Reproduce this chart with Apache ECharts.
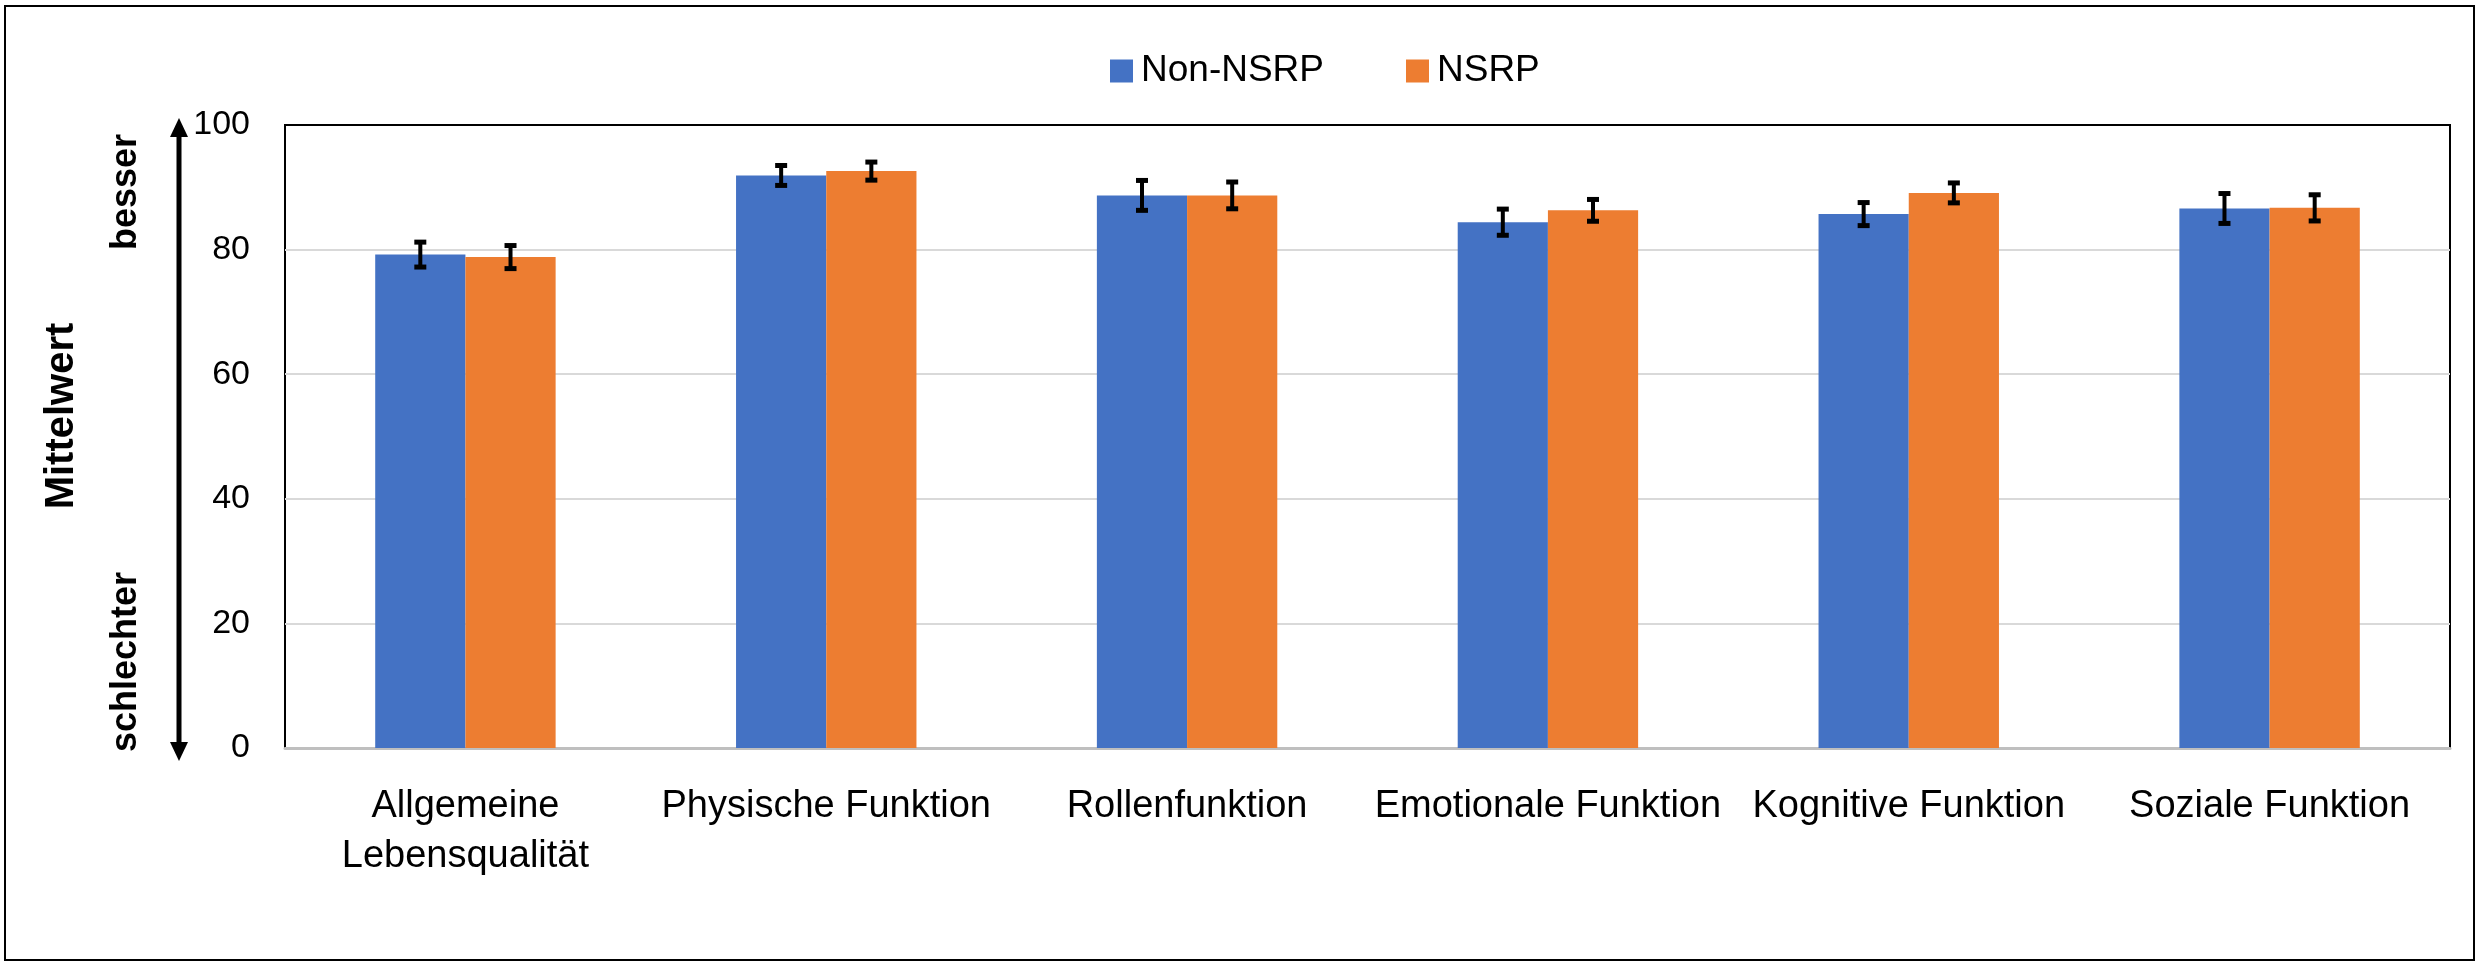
<!DOCTYPE html>
<html>
<head>
<meta charset="utf-8">
<script src="https://cdn.jsdelivr.net/npm/echarts@6/dist/echarts.min.js"></script>
<style>
  html, body { margin: 0; padding: 0; background: #fff; }
  #chart { width: 2483px; height: 965px; }
</style>
</head>
<body>
<div id="chart"></div>
<script>
// chart data
const categories = ['Allgemeine\nLebensqualität', 'Physische Funktion', 'Rollenfunktion', 'Emotionale Funktion', 'Kognitive Funktion', 'Soziale Funktion']
const seriesNames = ['Non-NSRP', 'NSRP']
const nonNsrp = [79.2, 91.9, 88.7, 84.4, 85.7, 86.6]
const nonNsrpErr = [2.0, 1.6, 2.4, 2.1, 1.85, 2.4]
const nsrp = [78.8, 92.6, 88.7, 86.3, 89.1, 86.7]
const nsrpErr = [1.85, 1.45, 2.15, 1.75, 1.6, 2.1]
const yTicks = [0, 20, 40, 60, 80, 100]

const colors = ['#4472C4', '#ED7D31']
const font = '"Liberation Sans", Arial, sans-serif'

const chart = echarts.init(document.getElementById('chart'))

// error bars drawn on top of the grouped bars (barGap 0, categoryGap 50%)
function errorSeries(values, errs, side) {
  return {
    type: 'custom',
    z: 10,
    silent: true,
    data: values.map((v, i) => [i, v - errs[i], v + errs[i]]),
    renderItem(params, api) {
      const band = api.size([1, 0])[0]
      const dx = side * band * 0.125
      const lo = api.coord([api.value(0), api.value(1)])
      const hi = api.coord([api.value(0), api.value(2)])
      const x = lo[0] + dx
      const cap = 6
      const style = { stroke: '#000', lineWidth: 4 }
      const capStyle = { stroke: '#000', lineWidth: 5 }
      return {
        type: 'group',
        children: [
          { type: 'line', shape: { x1: x, y1: lo[1], x2: x, y2: hi[1] }, style },
          { type: 'line', shape: { x1: x - cap, y1: lo[1], x2: x + cap, y2: lo[1] }, style: capStyle },
          { type: 'line', shape: { x1: x - cap, y1: hi[1], x2: x + cap, y2: hi[1] }, style: capStyle }
        ]
      }
    }
  }
}

chart.setOption({
  animation: false,
  textStyle: { fontFamily: font },
  legend: {
    data: seriesNames,
    left: 1105,
    top: 47,
    itemWidth: 23,
    itemHeight: 23,
    itemGap: 82,
    icon: 'rect',
    textStyle: { fontSize: 37, color: '#000', lineHeight: 38, padding: [0, 0, 0, 3] }
  },
  grid: {
    left: 285,
    right: 33,
    top: 125,
    bottom: 217,
    show: true,
    borderColor: '#000',
    borderWidth: 2
  },
  xAxis: {
    type: 'category',
    data: categories,
    axisTick: { show: false },
    axisLine: { lineStyle: { color: '#bfbfbf', width: 3 } },
    axisLabel: {
      color: '#000',
      fontSize: 38,
      lineHeight: 50,
      margin: 34,
      interval: 0
    }
  },
  yAxis: {
    type: 'value',
    min: 0,
    max: 100,
    interval: 20,
    axisLine: { show: false },
    axisTick: { show: false },
    axisLabel: {
      color: '#000',
      fontSize: 34,
      margin: 35,
      formatter: v => (yTicks.includes(v) ? String(v) : '')
    },
    splitLine: { showMaxLine: false, showMinLine: false, lineStyle: { color: '#d9d9d9', width: 2 } }
  },
  series: [
    {
      name: seriesNames[0],
      type: 'bar',
      data: nonNsrp,
      barGap: '0%',
      barCategoryGap: '50%',
      itemStyle: { color: colors[0] }
    },
    {
      name: seriesNames[1],
      type: 'bar',
      data: nsrp,
      barGap: '0%',
      barCategoryGap: '50%',
      itemStyle: { color: colors[1] }
    },
    errorSeries(nonNsrp, nonNsrpErr, -1),
    errorSeries(nsrp, nsrpErr, 1)
  ],
  graphic: [
    // outer frame
    {
      type: 'rect',
      shape: { x: 5, y: 6, width: 2469, height: 954 },
      style: { fill: null, stroke: '#000', lineWidth: 2 },
      silent: true
    },
    // double arrow beside the y axis
    {
      type: 'line',
      shape: { x1: 179, y1: 134, x2: 179, y2: 745 },
      style: { stroke: '#000', lineWidth: 5 }
    },
    {
      type: 'polygon',
      shape: { points: [[179, 118], [170, 137], [188, 137]] },
      style: { fill: '#000' }
    },
    {
      type: 'polygon',
      shape: { points: [[179, 761], [170, 742], [188, 742]] },
      style: { fill: '#000' }
    },
    {
      type: 'text',
      x: 62, y: 416, rotation: Math.PI / 2,
      style: { text: 'Mittelwert', font: 'bold 40px ' + font, fill: '#000', align: 'center', verticalAlign: 'middle' }
    },
    {
      type: 'text',
      x: 126, y: 192, rotation: Math.PI / 2,
      style: { text: 'besser', font: 'bold 36px ' + font, fill: '#000', align: 'center', verticalAlign: 'middle' }
    },
    {
      type: 'text',
      x: 126, y: 662, rotation: Math.PI / 2,
      style: { text: 'schlechter', font: 'bold 36px ' + font, fill: '#000', align: 'center', verticalAlign: 'middle' }
    }
  ]
})
</script>
</body>
</html>
